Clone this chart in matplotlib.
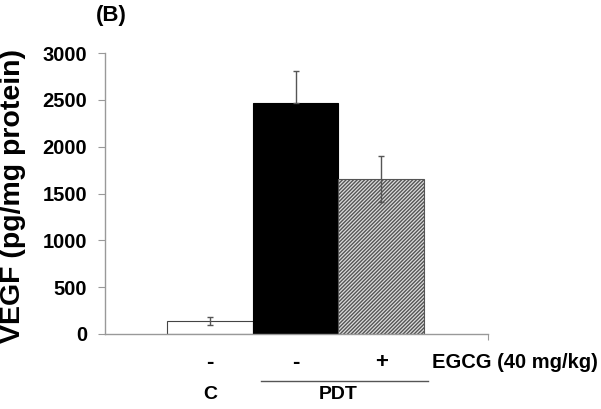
import numpy as np
import matplotlib.pyplot as plt
from matplotlib.transforms import blended_transform_factory

plt.rcParams['font.family'] = ['Liberation Sans', 'DejaVu Sans']
plt.rcParams['font.weight'] = 'bold'

# --- data ---
groups = ['C', 'PDT', 'PDT']
egcg = ['-', '-', '+']
vegf = [140, 2470, 1660]
err_hi = [45, 340, 245]
err_lo = [45, 0, 245]
y_ticks = [0, 500, 1000, 1500, 2000, 2500, 3000]

fig = plt.figure(figsize=(6.01, 4.09), dpi=100)
ax = fig.add_axes([0.1747, 0.1834, 0.8120 - 0.1747, 0.870 - 0.1834])

x = np.arange(len(vegf))
ax.bar(x[0], vegf[0], width=1.0, color='white', edgecolor='#444444', linewidth=0.8)
ax.bar(x[1], vegf[1], width=1.0, color='black', edgecolor='black', linewidth=0.8)
plt.rcParams['hatch.linewidth'] = 1.0
ax.bar(x[2], vegf[2], width=1.0, color='#dddddd', edgecolor='#555555', hatch='/////////', linewidth=0.8)
ax.errorbar(x, vegf, yerr=[err_lo, err_hi], fmt='none', ecolor='#555555',
            elinewidth=1.0, capsize=2.5, capthick=1.0)

ax.set_xlim(-1.23, 3.25)
ax.set_ylim(0, 3000)
ax.set_yticks(y_ticks)
ax.set_yticklabels([str(t) for t in y_ticks], fontsize=14.5, fontweight='bold')
ax.tick_params(axis='y', direction='out', length=5, color='#999999', pad=8)
ax.set_xticks([3.25])
ax.set_xticklabels([''])
ax.tick_params(axis='x', direction='out', length=4, color='#999999')

for s in ['top', 'right']:
    ax.spines[s].set_visible(False)
for s in ['left', 'bottom']:
    ax.spines[s].set_color('#999999')
    ax.spines[s].set_linewidth(1.0)

ax.set_ylabel('VEGF (pg/mg protein)', fontsize=20.5, fontweight='bold')
ax.yaxis.set_label_coords(-0.205, 0.49)

# labels under the axis
tr = blended_transform_factory(ax.transData, ax.transAxes)
for xi, sign in zip(x, egcg):
    ax.text(xi, -0.10, sign, transform=tr, ha='center', va='center', fontsize=16, fontweight='bold')
ax.text(2.6, -0.10, 'EGCG (40 mg/kg)', transform=tr, ha='left', va='center', fontsize=14.5, fontweight='bold')
ax.plot([0.6, 2.55], [-0.168, -0.168], transform=tr, color='#555555', lw=1.0, clip_on=False)
ax.text(x[0], -0.215, groups[0], transform=tr, ha='center', va='center', fontsize=14, fontweight='bold')
ax.text((x[1] + x[2]) / 2, -0.215, groups[1], transform=tr, ha='center', va='center', fontsize=14, fontweight='bold')

fig.text(0.185, 0.962, '(B)', ha='center', va='center', fontsize=16, fontweight='bold')

fig.savefig('out.png', dpi=100)
